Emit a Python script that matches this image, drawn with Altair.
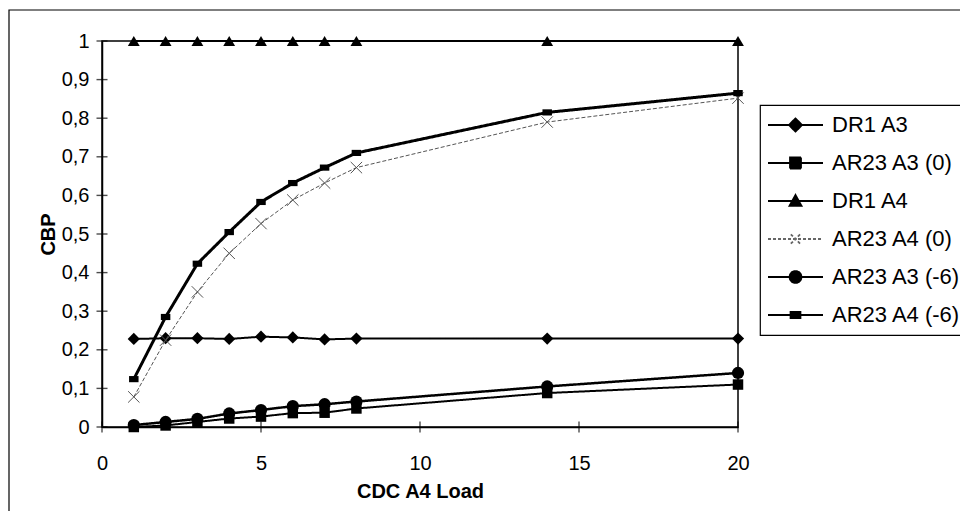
import math
import altair as alt
import pandas as pd

# ---------------- data ----------------
x_load = [1, 2, 3, 4, 5, 6, 7, 8, 14, 20]
series_names = ["DR1 A3", "AR23 A3 (0)", "DR1 A4", "AR23 A4 (0)", "AR23 A3 (-6)", "AR23 A4 (-6)"]
dr1_a3 = [0.228, 0.230, 0.230, 0.228, 0.234, 0.232, 0.227, 0.229, 0.229, 0.229]
ar23_a3_0 = [0.000, 0.004, 0.013, 0.022, 0.027, 0.036, 0.037, 0.048, 0.088, 0.110]
dr1_a4 = [1.0, 1.0, 1.0, 1.0, 1.0, 1.0, 1.0, 1.0, 1.0, 1.0]
ar23_a4_0 = [0.078, 0.225, 0.350, 0.450, 0.527, 0.588, 0.632, 0.672, 0.790, 0.852]
ar23_a3_m6 = [0.005, 0.013, 0.021, 0.035, 0.044, 0.054, 0.059, 0.066, 0.105, 0.140]
ar23_a4_m6 = [0.124, 0.285, 0.423, 0.505, 0.583, 0.632, 0.672, 0.710, 0.815, 0.865]
y_ticks = [0, 0.1, 0.2, 0.3, 0.4, 0.5, 0.6, 0.7, 0.8, 0.9, 1.0]
x_ticks = [0, 5, 10, 15, 20]

FONT = "Liberation Sans"
W, H = 636, 386

x_scale = alt.Scale(domain=[0, 20], nice=False, zero=False)
y_scale = alt.Scale(domain=[0, 1], nice=False)

x_axis = alt.Axis(values=x_ticks, ticks=False, grid=False, domainColor="black", domainWidth=1.5,
                  labelFontSize=20, labelFont=FONT, labelColor="black", labelPadding=26,
                  labelFlush=False, title="CDC A4 Load", titleFont=FONT, titleFontSize=20,
                  titleFontWeight="bold", titleColor="black", titlePadding=8)
y_axis = alt.Axis(values=y_ticks, ticks=False, grid=False, domainColor="black", domainWidth=1.5,
                  labelFontSize=20, labelFont=FONT, labelColor="black", labelPadding=13,
                  labelFlush=False,
                  labelExpr="replace(format(datum.value, '.1~f'), '.', ',')",
                  title="CBP", titleFont=FONT, titleFontSize=20, titleFontWeight="bold",
                  titleColor="black", titlePadding=3)


def series_layers(values, shape, size, filled, color, line_width, dash, pt_stroke):
    df = pd.DataFrame({"x": x_load, "y": values})
    base = alt.Chart(df).encode(
        x=alt.X("x:Q", scale=x_scale, axis=x_axis),
        y=alt.Y("y:Q", scale=y_scale, axis=y_axis),
    )
    line = base.mark_line(color=color, strokeWidth=line_width, strokeDash=dash)
    pts = base.mark_point(shape=shape, size=size, filled=filled, color=color, opacity=1,
                          strokeWidth=pt_stroke)
    return [line, pts]


layers = []
layers += series_layers(dr1_a3, "diamond", 150, True, "black", 2, [1, 0], 1)
layers += series_layers(ar23_a3_0, "square", 110, True, "black", 2, [1, 0], 1)
layers += series_layers(dr1_a4, "triangle-up", 140, True, "black", 2, [1, 0], 1)
layers += series_layers(ar23_a4_0, "M-1,-1L1,1M-1,1L1,-1", 130, False, "#555555", 1, [4, 2], 1)
layers += series_layers(ar23_a3_m6, "circle", 150, True, "black", 2.5, [1, 0], 1)
layers += series_layers(ar23_a4_m6, "M-1,-0.65H1V0.65H-1Z", 90, True, "black", 3, [1, 0], 1)

# crossing tick marks on both axes
ytick_df = pd.DataFrame({"x": [0] * len(y_ticks), "y": y_ticks})
xtick_df = pd.DataFrame({"x": x_ticks, "y": [0] * len(x_ticks)})
yticks = alt.Chart(ytick_df).mark_tick(orient="horizontal", size=11, thickness=1.4, color="black").encode(
    x=alt.X("x:Q", scale=x_scale, axis=x_axis), y=alt.Y("y:Q", scale=y_scale, axis=y_axis))
xticks = alt.Chart(xtick_df).mark_tick(orient="vertical", size=11, thickness=1.4, color="black").encode(
    x=alt.X("x:Q", scale=x_scale, axis=x_axis), y=alt.Y("y:Q", scale=y_scale, axis=y_axis))

# legend (built from scales with custom line+marker symbols)
def poly(r, n=14):
    pts = [(r * math.cos(2 * math.pi * k / n), r * math.sin(2 * math.pi * k / n)) for k in range(n)]
    return "M" + "L".join(f"{a:.3f},{b:.3f}" for a, b in pts) + "Z"

ln = "M-1,0H1"
legend_paths = [
    ln + "M0,-0.24L0.24,0L0,0.24L-0.24,0Z",
    ln + "M-0.2,-0.2H0.2V0.2H-0.2Z",
    ln + "M0,-0.22L0.22,0.18L-0.22,0.18Z",
    ln + "M-0.17,-0.17L0.17,0.17M-0.17,0.17L0.17,-0.17",
    ln + poly(0.22),
    ln + "M-0.18,-0.11H0.18V0.11H-0.18Z",
]
legend_fill = ["black", "black", "black", "transparent", "black", "black"]
legend_stroke = ["black", "black", "black", "#666666", "black", "black"]
legend_dash = [[1, 0], [1, 0], [1, 0], [3, 2], [1, 0], [1, 0]]

leg_df = pd.DataFrame({"series": series_names, "show": [0] * len(series_names)})
legend_layer = alt.Chart(leg_df).mark_point(opacity=1).encode(
    shape=alt.Shape("series:N", scale=alt.Scale(domain=series_names, range=legend_paths), title=None),
    fill=alt.Fill("series:N", scale=alt.Scale(domain=series_names, range=legend_fill), title=None),
    stroke=alt.Stroke("series:N", scale=alt.Scale(domain=series_names, range=legend_stroke), title=None),
    strokeDash=alt.StrokeDash("series:N", scale=alt.Scale(domain=series_names, range=legend_dash), title=None),
).transform_filter("datum.show == 1")

# outer frame of the chart
frame = alt.Chart(pd.DataFrame({"a": [0]})).mark_rect(fill="transparent", stroke="black", strokeWidth=1.2).encode(
    x=alt.value(-93), x2=alt.value(900), y=alt.value(-31), y2=alt.value(700))

chart = alt.layer(frame, *layers, yticks, xticks, legend_layer).properties(
    width=W, height=H,
    autosize=alt.AutoSizeParams(type="none"),
    padding={"left": 94, "top": 33, "right": 222, "bottom": 84},
).configure_view(stroke="black", strokeWidth=1.5).configure_legend(
    orient="none", legendX=658, legendY=64, strokeColor="black", strokeWidth=1.2, fillColor="white",
    padding=7, labelFontSize=22, labelFont=FONT, labelColor="black", symbolSize=3025,
    symbolStrokeWidth=1.8, labelOffset=8, rowPadding=12, symbolOpacity=1, clipHeight=26,
)

chart.save("out.html", embed_options={"renderer": "svg", "actions": False})
